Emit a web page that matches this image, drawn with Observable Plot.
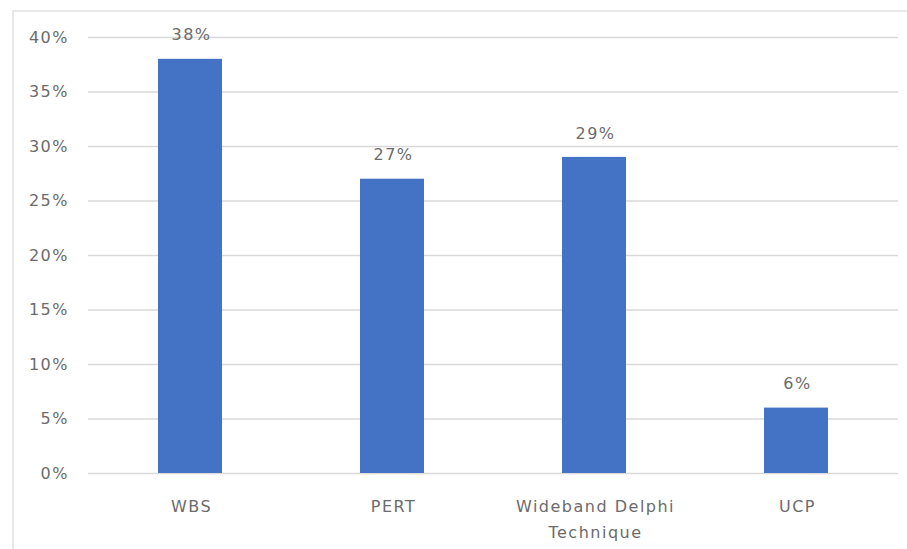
<!DOCTYPE html>
<html><head><meta charset="utf-8">
<script src="https://cdn.jsdelivr.net/npm/d3@7"></script>
<script src="https://cdn.jsdelivr.net/npm/@observablehq/plot@0.6"></script>
<style>
body{margin:0;background:#fff}
#wrap{position:relative;width:907px;height:549px;overflow:hidden}
#border{position:absolute;left:12px;top:10px;right:-5px;bottom:-5px;border-top:2px solid #e8e8e8;border-left:2px solid #e8e8e8;pointer-events:none}
</style>
</head><body>
<div id="wrap"><div id="chart"></div><div id="border"></div></div>
<script>
const categories = ["WBS", "PERT", "Wideband Delphi\nTechnique", "UCP"];
const values = [0.38, 0.27, 0.29, 0.06];
const yTicks = [0, 0.05, 0.10, 0.15, 0.20, 0.25, 0.30, 0.35, 0.40];

const data = categories.map((c, i) => ({category: c, value: values[i]}));
const pct = d => Math.round(d * 100) + "%";

const chart = Plot.plot({
  width: 907,
  height: 549,
  marginLeft: 88,
  marginRight: 9,
  marginTop: 37,
  marginBottom: 76,
  style: {fontFamily: "'DejaVu Sans', sans-serif", fontSize: "16px", letterSpacing: "1.5px", color: "#6b6b6b", background: "#fff"},
  x: {domain: categories, paddingInner: 0.684, paddingOuter: 0.342, label: null},
  y: {domain: [0, 0.4], label: null},
  marks: [
    Plot.gridY(yTicks, {stroke: "#d9d9d9", strokeOpacity: 1, strokeWidth: 1.5}),
    Plot.barY(data, {x: "category", y: "value", fill: "#4472C4"}),
    Plot.text(data, {x: "category", y: "value", text: d => pct(d.value), dy: -24, dx: 1, fill: "#6b6b6b", fontSize: 16}),
    Plot.axisY({ticks: yTicks, tickFormat: pct, tickSize: 0, tickPadding: 19.5, label: null, fill: "#6b6b6b"}),
    Plot.axisX({tickSize: 0, tickPadding: 19, lineHeight: 1.68, dx: 1, label: null, fill: "#6b6b6b"})
  ]
});
document.getElementById("chart").appendChild(chart);
</script>
</body></html>
